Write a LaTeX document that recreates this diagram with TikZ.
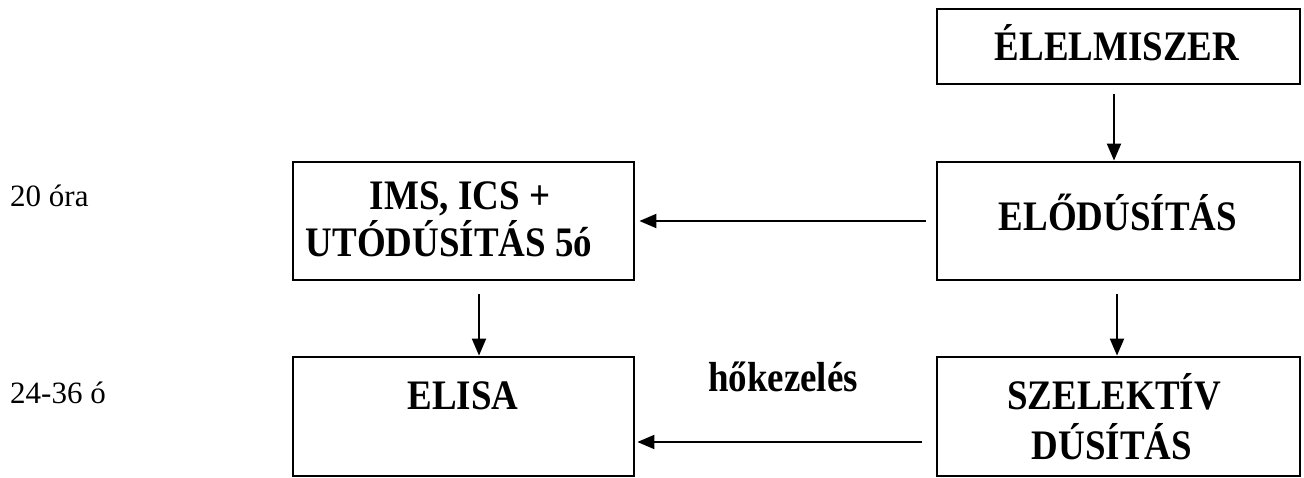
\documentclass[tikz,border=0pt]{standalone}
\usepackage{fontspec}
\setmainfont{Liberation Serif}
\newfontfamily\condserif[FakeStretch=0.88]{Liberation Serif}
\usetikzlibrary{arrows.meta}
\begin{document}
\begin{tikzpicture}[x=1pt,y=-1pt,
  box/.style={draw=black,line width=2.8pt,rectangle,inner sep=0pt,minimum width=363pt},
  lbox/.style={box,minimum width=341pt},
  btxt/.style={anchor=base,inner sep=0pt,font=\condserif\bfseries\fontsize{42}{46}\selectfont},
  side/.style={anchor=base west,inner sep=0pt,font=\fontsize{31}{34}\selectfont},
  arr/.style={line width=2pt,-{Triangle[length=17pt,width=14pt]}}]
\useasboundingbox (0,0) rectangle (1304,478);
% boxes
\node[box,minimum height=75pt] (elel) at (1118.5,46.5) {};
\node[box,minimum height=118pt] (elo) at (1118.5,221) {};
\node[lbox,minimum height=118pt] (ims) at (463.5,221) {};
\node[lbox,minimum height=119pt] (elisa) at (463.5,416.5) {};
\node[box,minimum height=119pt] (szel) at (1118.5,416.5) {};
% texts
\node[btxt] (telel) at (1117,61) {ÉLELMISZER};
\node[btxt] (telo) at (1118,231) {ELŐDÚSÍTÁS};
\node[btxt] (tims1) at (460,210) {IMS, ICS +};
\node[btxt] (tims2) at (449,257) {UTÓDÚSÍTÁS 5ó};
\node[btxt] (telisa) at (463,409) {ELISA};
\node[btxt] (tszel1) at (1114,409) {SZELEKTÍV};
\node[btxt] (tszel2) at (1112,459) {DÚSÍTÁS};
\node[btxt] (hok) at (783,391) {hőkezelés};
\node[side] (t20) at (10,207) {20 óra};
\node[side] (t24) at (10,403) {24-36 ó};
% arrows
\draw[arr] ([xshift=-4.5pt,yshift=-9pt]elel.south) -- ([xshift=-4.5pt]elo.north);
\draw[arr] ([xshift=-10pt]elo.west) -- ([xshift=4pt]ims.east);
\draw[arr] ([xshift=15.5pt,yshift=-13pt]ims.south) -- ([xshift=15.5pt]elisa.north);
\draw[arr] ([xshift=-1.5pt,yshift=-13pt]elo.south) -- ([xshift=-1.5pt]szel.north);
\draw[arr] ([xshift=-14pt,yshift=-25.5pt]szel.west) -- ([xshift=2pt,yshift=-25.5pt]elisa.east);
\end{tikzpicture}
\end{document}
